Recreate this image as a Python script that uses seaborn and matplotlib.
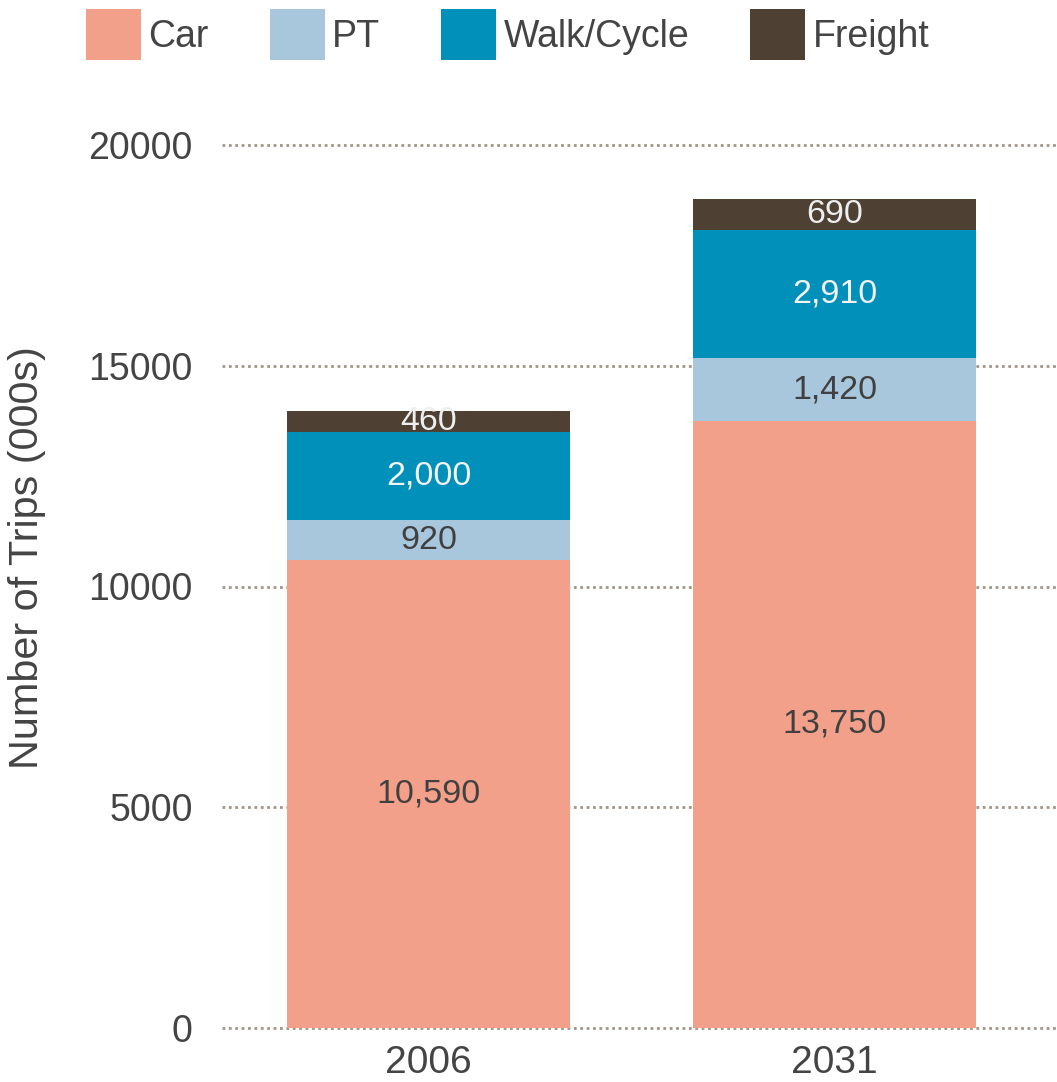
import matplotlib
matplotlib.use("Agg")
import matplotlib.pyplot as plt
import seaborn as sns
import pandas as pd
import numpy as np
from matplotlib.patches import Patch

years = ["2006", "2031"]
modes = ["Car", "PT", "Walk/Cycle", "Freight"]
car = [10590, 13750]
pt = [920, 1420]
walk = [2000, 2910]
freight = [460, 690]
yticks = [0, 5000, 10000, 15000, 20000]

colors = {"Car": "#F2A08A", "PT": "#A8C6DC", "Walk/Cycle": "#0090B9", "Freight": "#4E4033"}
label_colors = {"Car": "#404040", "PT": "#404040", "Walk/Cycle": "#f4f4f4", "Freight": "#eeeeee"}

sns.set_theme(style="white")
plt.rcParams["font.family"] = ["Liberation Sans", "DejaVu Sans"]
txt = "#444444"

series = {"Car": car, "PT": pt, "Walk/Cycle": walk, "Freight": freight}
df = pd.DataFrame({"Year": years, **series})
cum = df[modes].cumsum(axis=1)
cum["Year"] = years

fig = plt.figure(figsize=(10.57, 10.82), dpi=100)
ax = fig.add_axes([222 / 1057, 54 / 1082, 835 / 1057, 883 / 1082])

for m in reversed(modes):
    sns.barplot(data=cum, x="Year", y=m, color=colors[m], width=0.697,
                saturation=1, ax=ax, zorder=3, linewidth=0)

for i, yr in enumerate(years):
    base = 0
    for m in modes:
        v = series[m][i]
        ax.text(i, base + v / 2, f"{v:,}", ha="center", va="center",
                fontsize=24.5, color=label_colors[m], zorder=5)
        base += v

ax.set_xlim(-0.509, 1.548)
ax.set_ylim(0, 20000)
ax.set_yticks(yticks)
ax.set_yticklabels([str(t) for t in yticks])
ax.tick_params(axis="y", length=0, pad=21, labelsize=27, labelcolor=txt)
ax.tick_params(axis="x", length=0, pad=12, labelsize=28, labelcolor=txt)
ax.set_xlabel("")
ax.set_ylabel("Number of Trips (000s)", fontsize=29.8, color=txt)
ax.yaxis.set_label_coords(-0.211, 0.533)
for s in ax.spines.values():
    s.set_visible(False)
ax.grid(axis="y", color="#A29486", linewidth=2, linestyle=(0, (1, 1.3)), zorder=0)
ax.grid(axis="x", visible=False)
ax.set_axisbelow(True)
for gl in ax.get_ygridlines():
    gl.set_clip_on(False)

handles = [Patch(facecolor=colors[m], edgecolor="none", label=m) for m in modes]
fig.legend(handles=handles, loc="upper left", bbox_to_anchor=(71 / 1057, 1.006),
           ncol=4, frameon=False, fontsize=27, handlelength=1.47, handleheight=1.75,
           handletextpad=0.2, columnspacing=1.62, labelcolor=txt, borderaxespad=0.0)

fig.savefig("out.png", dpi=100)
